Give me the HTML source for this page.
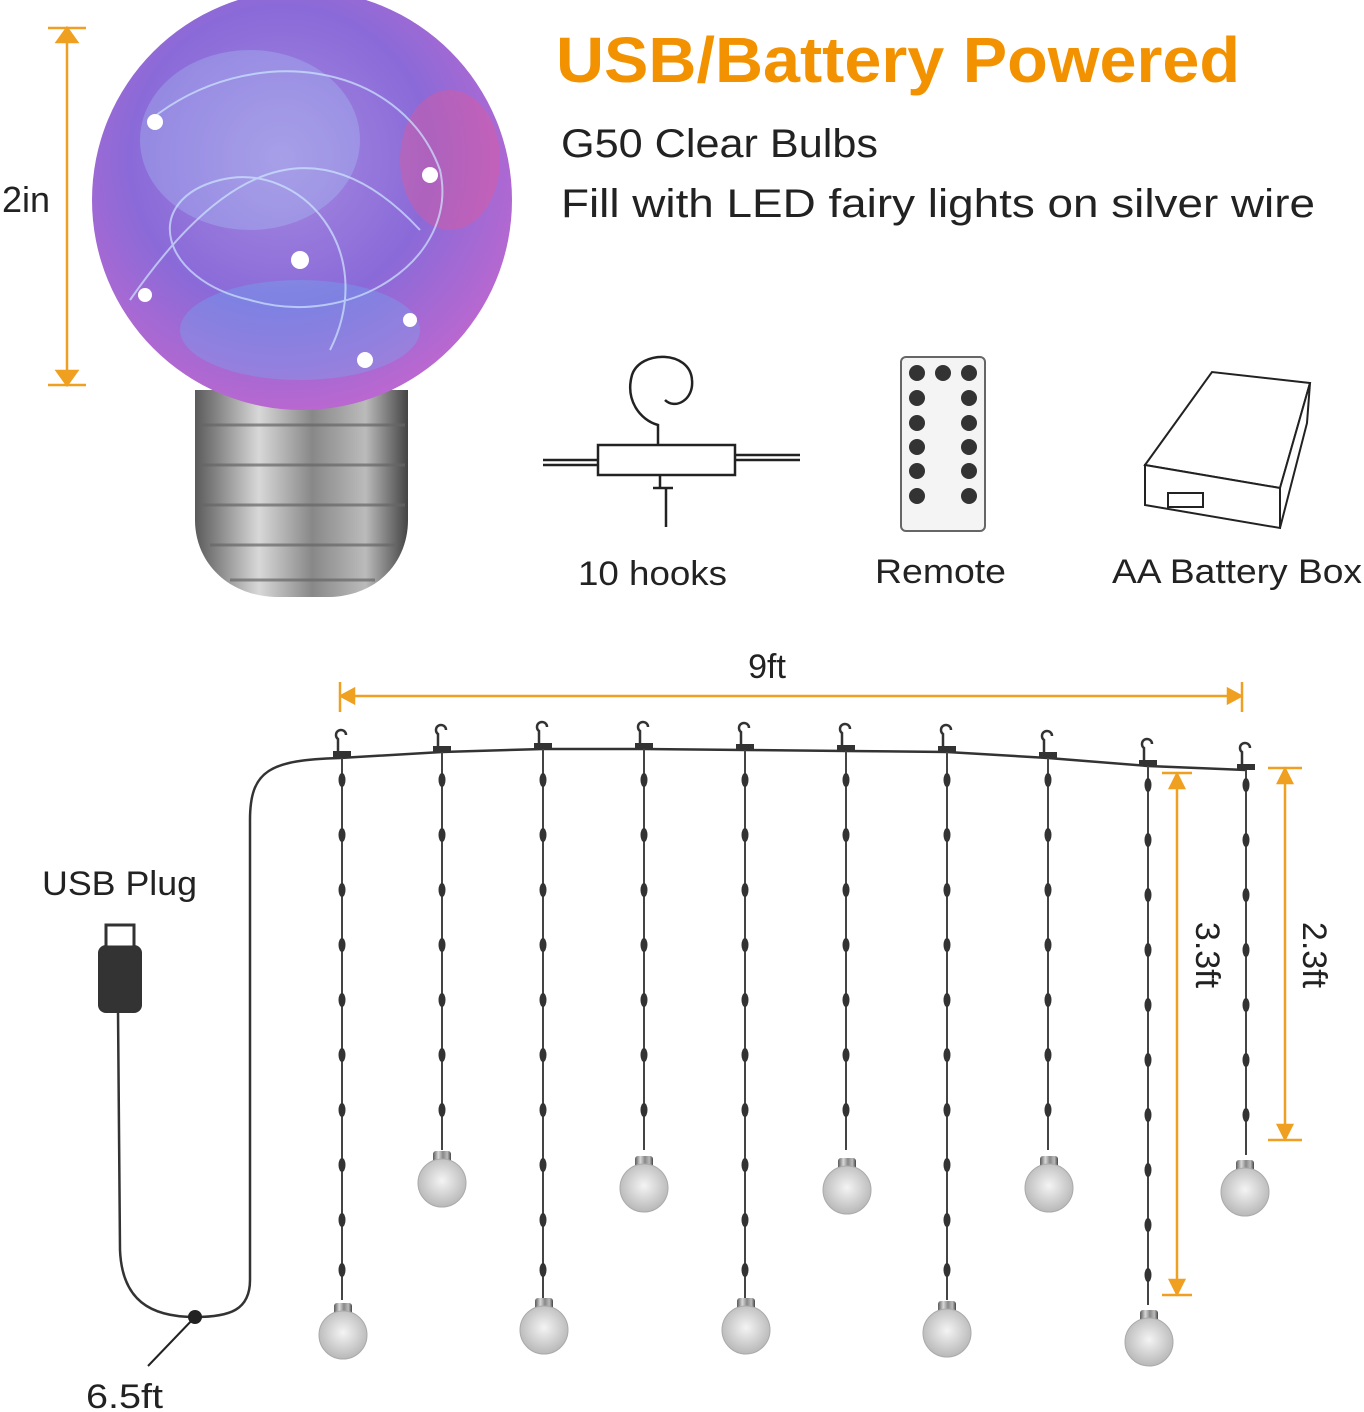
<!DOCTYPE html>
<html><head><meta charset="utf-8"><style>
html,body{margin:0;padding:0;background:#fff;}
svg{display:block}
text{font-family:"Liberation Sans","DejaVu Sans",sans-serif;}
</style></head><body>
<svg width="1364" height="1412" viewBox="0 0 1364 1412" xmlns="http://www.w3.org/2000/svg">
<defs>
<radialGradient id="bg" cx="45%" cy="40%" r="60%">
<stop offset="0" stop-color="#a58ae0"/><stop offset="0.6" stop-color="#8a6ad8"/><stop offset="1" stop-color="#b868d0"/>
</radialGradient>
<linearGradient id="metal" x1="0" x2="1">
<stop offset="0" stop-color="#5a5a5a"/><stop offset="0.3" stop-color="#d8d8d8"/><stop offset="0.55" stop-color="#888"/><stop offset="0.8" stop-color="#bbb"/><stop offset="1" stop-color="#444"/>
</linearGradient>
<radialGradient id="sb" cx="50%" cy="45%" r="55%"><stop offset="0" stop-color="#f4f4f4"/><stop offset="1" stop-color="#b8b8b8"/></radialGradient>
<g id="minibulb">
<rect x="-9" y="-32" width="18" height="18" fill="url(#metal)" rx="3"/>
<circle cx="0" cy="0" r="24" fill="url(#sb)" stroke="#aaa"/>
</g>
<g id="hook"><path d="M-4 10 V-6 a5 5 0 1 1 8 -4" fill="none" stroke="#333" stroke-width="2.5"/><rect x="-9" y="6" width="18" height="6" fill="#333"/></g>
<g id="longb" fill="#333">
<ellipse cx="0" cy="780" rx="3.5" ry="7"/><ellipse cx="0" cy="835" rx="3.5" ry="7"/><ellipse cx="0" cy="890" rx="3.5" ry="7"/><ellipse cx="0" cy="945" rx="3.5" ry="7"/><ellipse cx="0" cy="1000" rx="3.5" ry="7"/><ellipse cx="0" cy="1055" rx="3.5" ry="7"/><ellipse cx="0" cy="1110" rx="3.5" ry="7"/><ellipse cx="0" cy="1165" rx="3.5" ry="7"/><ellipse cx="0" cy="1220" rx="3.5" ry="7"/><ellipse cx="0" cy="1270" rx="3.5" ry="7"/>
</g>
<g id="shortb" fill="#333">
<ellipse cx="0" cy="780" rx="3.5" ry="7"/><ellipse cx="0" cy="835" rx="3.5" ry="7"/><ellipse cx="0" cy="890" rx="3.5" ry="7"/><ellipse cx="0" cy="945" rx="3.5" ry="7"/><ellipse cx="0" cy="1000" rx="3.5" ry="7"/><ellipse cx="0" cy="1055" rx="3.5" ry="7"/><ellipse cx="0" cy="1110" rx="3.5" ry="7"/>
</g>
</defs>

<!-- big bulb -->
<path d="M195 390 H408 V520 C408 560 380 595 330 597 H275 C225 595 195 560 195 520 Z" fill="url(#metal)"/>
<g stroke="#666" stroke-width="3" opacity="0.7">
<path d="M200 425 H405 M200 465 H405 M200 505 H405 M210 545 H395 M230 580 H375"/>
</g>
<circle cx="302" cy="200" r="210" fill="url(#bg)"/>
<ellipse cx="250" cy="140" rx="110" ry="90" fill="#aee0ff" opacity="0.25"/>
<ellipse cx="450" cy="160" rx="50" ry="70" fill="#ff5080" opacity="0.3"/>
<ellipse cx="300" cy="330" rx="120" ry="50" fill="#60c8ff" opacity="0.25"/>
<g fill="none" stroke="#cfe8ff" stroke-width="2" opacity="0.7">
<path d="M150 120 C250 40 400 60 440 170 C460 260 350 330 250 300 C160 280 140 200 220 180 C300 160 380 250 330 350"/>
<path d="M130 300 C200 200 300 100 420 230"/>
</g>
<g fill="#fff"><circle cx="155" cy="122" r="8"/><circle cx="430" cy="175" r="8"/><circle cx="300" cy="260" r="9"/><circle cx="365" cy="360" r="8"/><circle cx="145" cy="295" r="7"/><circle cx="410" cy="320" r="7"/></g>

<!-- 2in dim -->
<g stroke="#f0a020" stroke-width="2.5" fill="#f0a020">
<line x1="67" y1="30" x2="67" y2="383"/><line x1="48" y1="28" x2="86" y2="28"/><line x1="48" y1="385" x2="86" y2="385"/>
<path d="M57 42 L67 28 L77 42Z"/><path d="M57 371 L67 385 L77 371Z"/>
</g>
<text x="2" y="212" font-size="36" fill="#222">2in</text>

<text x="556" y="82" font-size="64" font-weight="bold" fill="#f39200" textLength="684" lengthAdjust="spacingAndGlyphs">USB/Battery Powered</text>
<text x="561" y="157" font-size="40" fill="#222" textLength="317" lengthAdjust="spacingAndGlyphs">G50 Clear Bulbs</text>
<text x="561" y="217" font-size="40" fill="#222" textLength="754" lengthAdjust="spacingAndGlyphs">Fill with LED fairy lights on silver wire</text>

<!-- hook icon -->
<g fill="none" stroke="#222" stroke-width="2.5">
<path d="M543 460 H600 M543 465 H600 M735 455 H800 M735 460 H800"/>
<path d="M598 445 H735 V475 H598Z" fill="#fff"/>
<path d="M658 445 V425 C640 420 625 400 632 375 C640 350 690 350 692 380 C694 400 675 410 665 400"/>
<path d="M660 475 V488 M653 488 H673 M666 488 V527"/>
</g>
<!-- remote -->
<rect x="901" y="357" width="84" height="174" rx="5" fill="#f4f4f4" stroke="#666" stroke-width="2"/>
<g fill="#333">
<circle cx="917" cy="373" r="8"/><circle cx="943" cy="373" r="8"/><circle cx="969" cy="373" r="8"/>
<circle cx="917" cy="398" r="8"/><circle cx="969" cy="398" r="8"/>
<circle cx="917" cy="423" r="8"/><circle cx="969" cy="423" r="8"/>
<circle cx="917" cy="447" r="8"/><circle cx="969" cy="447" r="8"/>
<circle cx="917" cy="471" r="8"/><circle cx="969" cy="471" r="8"/>
<circle cx="917" cy="496" r="8"/><circle cx="969" cy="496" r="8"/>
</g>
<!-- battery box -->
<g fill="#fff" stroke="#222" stroke-width="2">
<path d="M1145 465 L1212 372 L1310 383 L1280 488 Z"/>
<path d="M1145 465 L1280 488 L1280 528 L1145 505 Z"/>
<path d="M1280 488 L1310 383 L1307 423 L1280 528Z"/>
<rect x="1168" y="493" width="35" height="14"/>
</g>
<text x="578" y="585" font-size="34" fill="#222" textLength="149" lengthAdjust="spacingAndGlyphs">10 hooks</text>
<text x="875" y="583" font-size="34" fill="#222" textLength="131" lengthAdjust="spacingAndGlyphs">Remote</text>
<text x="1112" y="583" font-size="34" fill="#222" textLength="250" lengthAdjust="spacingAndGlyphs">AA Battery Box</text>

<!-- 9ft -->
<g stroke="#f0a020" stroke-width="2.5" fill="#f0a020">
<line x1="340" y1="696" x2="1242" y2="696"/><line x1="340" y1="682" x2="340" y2="712"/><line x1="1242" y1="682" x2="1242" y2="712"/>
<path d="M354 689 L341 696 L354 703Z"/><path d="M1228 689 L1241 696 L1228 703Z"/>
</g>
<text x="767" y="678" font-size="34" fill="#222" text-anchor="middle">9ft</text>

<!-- wire -->
<path d="M340 758 C270 760 250 770 250 820 L250 1280 C250 1310 230 1317 195 1317 C150 1317 122 1300 120 1250 L118 1010" fill="none" stroke="#333" stroke-width="2.5"/>
<path d="M340 758 L442 752 L543 749 L644 749 L745 750 L846 751 L947 752 L1048 758 L1148 766 L1246 770" fill="none" stroke="#333" stroke-width="2.5"/>
<circle cx="195" cy="1317" r="7" fill="#222"/>
<line x1="195" y1="1317" x2="148" y2="1366" stroke="#222" stroke-width="2"/>
<rect x="98" y="945" width="44" height="68" rx="8" fill="#333"/>
<rect x="106" y="925" width="28" height="22" fill="#fff" stroke="#333" stroke-width="3"/>
<text x="42" y="895" font-size="34" fill="#222" textLength="155" lengthAdjust="spacingAndGlyphs">USB Plug</text>
<text x="86" y="1408" font-size="34" fill="#222" textLength="77" lengthAdjust="spacingAndGlyphs">6.5ft</text>

<!-- strands -->
<g stroke="#444" stroke-width="2" fill="none">
<line x1="342" y1="758" x2="342" y2="1300"/>
<line x1="442" y1="752" x2="442" y2="1150"/>
<line x1="543" y1="749" x2="543" y2="1300"/>
<line x1="644" y1="749" x2="644" y2="1150"/>
<line x1="745" y1="750" x2="745" y2="1300"/>
<line x1="846" y1="751" x2="846" y2="1150"/>
<line x1="947" y1="752" x2="947" y2="1300"/>
<line x1="1048" y1="758" x2="1048" y2="1150"/>
<line x1="1148" y1="766" x2="1148" y2="1305"/>
<line x1="1246" y1="770" x2="1246" y2="1155"/>
</g>
<use href="#hook" x="342" y="745"/><use href="#hook" x="442" y="740"/><use href="#hook" x="543" y="737"/><use href="#hook" x="644" y="737"/><use href="#hook" x="745" y="738"/><use href="#hook" x="846" y="739"/><use href="#hook" x="947" y="740"/><use href="#hook" x="1048" y="746"/><use href="#hook" x="1148" y="754"/><use href="#hook" x="1246" y="758"/>
<use href="#longb" x="342"/><use href="#longb" x="543"/><use href="#longb" x="745"/><use href="#longb" x="947"/><use href="#longb" x="1148" y="5"/>
<use href="#shortb" x="442"/><use href="#shortb" x="644"/><use href="#shortb" x="846"/><use href="#shortb" x="1048"/><use href="#shortb" x="1246" y="5"/>
<use href="#minibulb" x="343" y="1335"/><use href="#minibulb" x="544" y="1330"/><use href="#minibulb" x="746" y="1330"/><use href="#minibulb" x="947" y="1333"/><use href="#minibulb" x="1149" y="1342"/>
<use href="#minibulb" x="442" y="1183"/><use href="#minibulb" x="644" y="1188"/><use href="#minibulb" x="847" y="1190"/><use href="#minibulb" x="1049" y="1188"/><use href="#minibulb" x="1245" y="1192"/>

<!-- 3.3ft / 2.3ft -->
<g stroke="#f0a020" stroke-width="2.5" fill="#f0a020">
<line x1="1177" y1="775" x2="1177" y2="1293"/><line x1="1162" y1="773" x2="1192" y2="773"/><line x1="1162" y1="1295" x2="1192" y2="1295"/>
<path d="M1170 788 L1177 774 L1184 788Z"/><path d="M1170 1280 L1177 1294 L1184 1280Z"/>
<line x1="1285" y1="770" x2="1285" y2="1138"/><line x1="1268" y1="768" x2="1302" y2="768"/><line x1="1268" y1="1140" x2="1302" y2="1140"/>
<path d="M1278 783 L1285 769 L1292 783Z"/><path d="M1278 1125 L1285 1139 L1292 1125Z"/>
</g>
<text transform="translate(1196 955) rotate(90)" font-size="34" fill="#222" text-anchor="middle">3.3ft</text>
<text transform="translate(1303 955) rotate(90)" font-size="34" fill="#222" text-anchor="middle">2.3ft</text>
</svg>
</body></html>
